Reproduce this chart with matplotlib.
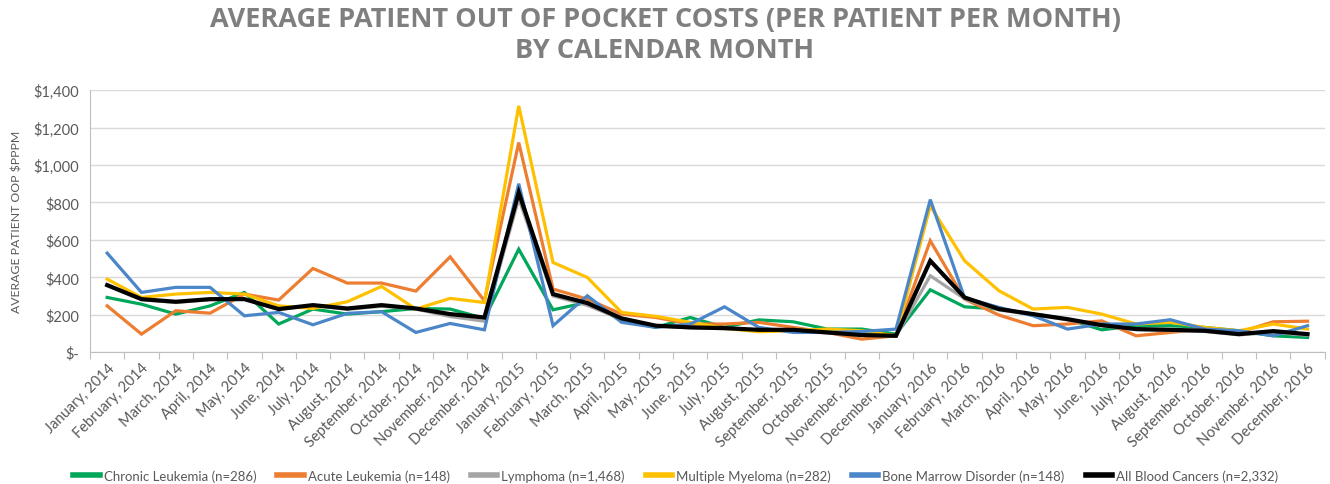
import numpy as np
import matplotlib
matplotlib.use("Agg")
import matplotlib.pyplot as plt

month_names = ["January", "February", "March", "April", "May", "June", "July",
               "August", "September", "October", "November", "December"]
months = [f"{m}, {y}" for y in (2014, 2015, 2016) for m in month_names]

chronic = [292, 256, 203, 247, 319, 150, 230, 203, 216, 233, 230, 180,
           550, 226, 266, 170, 132, 185, 133, 172, 162, 123, 123, 96,
           333, 242, 230, 203, 176, 119, 141, 141, 132, 114, 87, 78]
acute = [247, 96, 221, 208, 310, 278, 447, 369, 369, 326, 509, 274,
         1120, 337, 283, 203, 185, 150, 150, 159, 132, 105, 69, 87,
         595, 283, 198, 141, 150, 167, 87, 105, 123, 105, 162, 165]
lymphoma = [355, 280, 265, 280, 283, 228, 250, 228, 245, 230, 190, 165,
            820, 300, 250, 175, 138, 130, 125, 115, 115, 102, 90, 85,
            408, 285, 225, 200, 172, 140, 120, 115, 110, 92, 105, 90]
myeloma = [390, 292, 310, 319, 310, 247, 233, 269, 351, 230, 287, 265,
           1316, 479, 399, 212, 191, 159, 127, 109, 114, 123, 114, 87,
           782, 488, 328, 230, 239, 203, 150, 159, 132, 114, 150, 123]
bone_marrow = [529, 319, 346, 346, 194, 212, 146, 207, 216, 105, 153, 119,
               900, 141, 301, 159, 132, 150, 242, 132, 105, 105, 110, 123,
               815, 290, 239, 194, 123, 150, 150, 173, 123, 114, 87, 141]
all_blood = [358, 283, 269, 283, 283, 230, 251, 233, 251, 233, 203, 185,
             853, 310, 262, 180, 141, 132, 128, 119, 119, 105, 91, 87,
             488, 292, 230, 203, 176, 144, 123, 119, 114, 96, 112, 96]

series = [
    ("Chronic Leukemia (n=286)", chronic, "#00a65a", 2.3),
    ("Acute Leukemia (n=148)", acute, "#ed7d31", 2.3),
    ("Lymphoma (n=1,468)", lymphoma, "#a5a5a5", 2.3),
    ("Multiple Myeloma (n=282)", myeloma, "#ffc000", 2.3),
    ("Bone Marrow Disorder (n=148)", bone_marrow, "#4a86c8", 2.3),
    ("All Blood Cancers (n=2,332)", all_blood, "#000000", 3.0),
]

txt = "#595959"
fig = plt.figure(figsize=(13.3, 4.85), dpi=100)
ax = fig.add_axes([0.0677, 0.272, 0.9283, 0.54])

x = np.arange(len(months)) + 0.5
for label, vals, color, lw in series:
    ax.plot(x, vals, color=color, lw=lw, label=label, solid_joinstyle="miter")

ax.set_xlim(0, len(months))
ax.set_ylim(0, 1400)
ax.set_yticks(range(0, 1401, 200))
ax.set_yticklabels(["\\$-"] + [f"\\${v:,}" for v in range(200, 1401, 200)],
                   fontsize=10.5, color=txt, family="Lato")
ax.yaxis.grid(True, color="#d9d9d9", lw=1)
ax.set_axisbelow(True)
ax.tick_params(axis="y", length=0, pad=8)

# category boundaries get the tick marks, centres get the labels
ax.set_xticks(np.arange(len(months) + 1))
ax.set_xticklabels([])
ax.tick_params(axis="x", which="major", length=5, color="#bfbfbf", direction="out")
ax.set_xticks(x, minor=True)
ax.set_xticklabels(months, minor=True, rotation=45, ha="right",
                   rotation_mode="anchor", fontsize=10.5, color=txt, family="Lato")
ax.tick_params(axis="x", which="minor", length=0, pad=6)

for s in ("top", "right"):
    ax.spines[s].set_visible(False)
ax.spines["left"].set_color("#bfbfbf")
ax.spines["bottom"].set_color("#bfbfbf")

ax.set_ylabel("AVERAGE PATIENT OOP \\$PPPM", fontsize=8.8, color=txt,
              family="Lato", labelpad=8)

fig.suptitle("AVERAGE PATIENT OUT OF POCKET COSTS (PER PATIENT PER MONTH)\nBY CALENDAR MONTH",
             x=0.5, y=0.985, fontsize=19.5, fontweight="bold", color="#7f7f7f",
             family="Open Sans", linespacing=1.25)

leg = fig.legend(loc="lower center", bbox_to_anchor=(0.508, -0.02), ncol=6,
                 frameon=False, handlelength=2.0, handletextpad=0.3,
                 columnspacing=1.6, prop={"family": "Lato", "size": 9.5})
for t in leg.get_texts():
    t.set_color(txt)
for h in leg.get_lines():
    h.set_linewidth(4)

fig.savefig("out.png", dpi=100)
